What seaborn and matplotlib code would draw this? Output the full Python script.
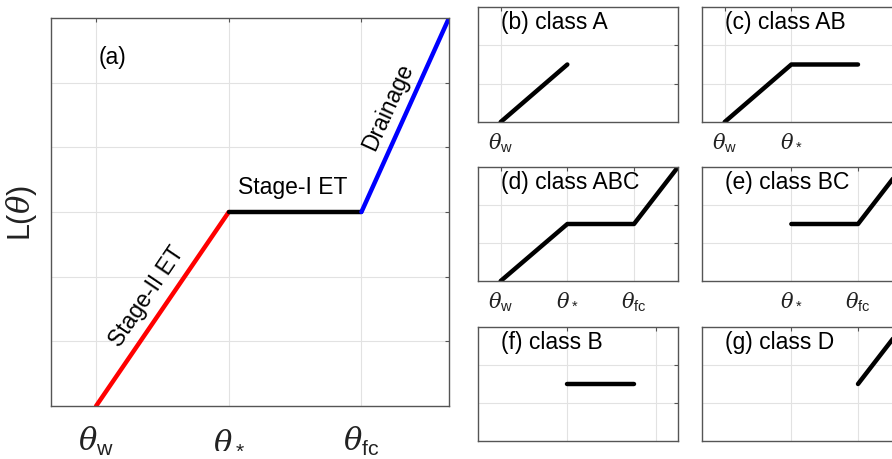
import numpy as np
import pandas as pd
import matplotlib
matplotlib.use("Agg")
import matplotlib.pyplot as plt
import seaborn as sns

# soil-moisture breakpoints (theta_w, theta_*, theta_fc, end of axis) and loss values
theta_pts = [1.0, 2.0, 3.0, 3.66]
L_pts = [0.0, 3.0, 3.0, 6.0]
stage_names = ["Stage-II ET", "Stage-I ET", "Drainage"]
stage_colors = ["#ff0000", "#000000", "#0000ff"]

tick_pos = [1.0, 2.0, 3.0]
tick_labels = [r"$\mathit{\theta}_{\mathrm{w}}$", r"$\mathit{\theta}_*$",
               r"$\mathit{\theta}_{\mathrm{fc}}$"]

# small panels: title, first/last breakpoint index, x ticks, tick labels shown
class_titles = ["(b) class A", "(c) class AB", "(d) class ABC",
                "(e) class BC", "(f) class B", "(g) class D"]
class_ranges = [(0, 2), (0, 3), (0, 4), (1, 4), (1, 3), (2, 4)]
class_ticks = [[1.0], [1.0, 2.0], [1.0, 2.0, 3.0], [2.0, 3.0], [2.0, 3.33], [2.0, 3.0]]
class_show_labels = [True, True, True, True, False, False]

sns.set_style("white")
plt.rcParams['font.family'] = ['Liberation Sans', 'DejaVu Sans']
plt.rcParams['text.color'] = 'black'
plt.rcParams['mathtext.fontset'] = 'custom'
plt.rcParams['mathtext.rm'] = 'Liberation Sans'
plt.rcParams['mathtext.it'] = 'DejaVu Serif:italic'
plt.rcParams['mathtext.bf'] = 'Liberation Sans:bold'

W, H = 892, 460
fig = plt.figure(figsize=(W / 100, H / 100), dpi=100)

spine_col = "#555555"
grid_col = "#e2e2e2"
xlim = (0.66, 3.66)
ylim = (0, 6)


def style_axes(ax, xt, yt, labels, fs, pad):
    ax.set_xlim(*xlim)
    ax.set_ylim(*ylim)
    ax.set_xticks(xt)
    ax.set_yticks(yt)
    ax.set_xticklabels(labels if labels else [""] * len(xt), fontsize=fs)
    ax.set_yticklabels([])
    ax.grid(True, color=grid_col, lw=0.8)
    ax.tick_params(direction="in", length=3, color=spine_col, top=True, right=True,
                   pad=pad, labelcolor="#222222")
    for s in ax.spines.values():
        s.set_color(spine_col)
        s.set_linewidth(1.0)
    ax.set_xlabel("")
    ax.set_ylabel("")


# ---- panel (a)
ax = fig.add_axes([51 / W, (H - 407) / H, 398 / W, 388 / H])
seg = pd.DataFrame({
    "x": sum([[theta_pts[i], theta_pts[i + 1]] for i in range(3)], []),
    "L": sum([[L_pts[i], L_pts[i + 1]] for i in range(3)], []),
    "stage": sum([[n, n] for n in stage_names], []),
})
sns.lineplot(data=seg, x="x", y="L", hue="stage", palette=dict(zip(stage_names, stage_colors)),
             estimator=None, sort=False, lw=3.2, legend=False, ax=ax)
style_axes(ax, tick_pos, [1, 2, 3, 4, 5], tick_labels, 22, 13)
ax.set_ylabel(r"L($\mathit{\theta}$)", fontsize=22, color="#222222")
ax.yaxis.set_label_coords(-0.03, 0.5)

ax.text(1.12, 5.41, "(a)", fontsize=16.5, ha="center", va="center")
ax.text(1.385, 1.70, "Stage-II ET", fontsize=16.5, ha="center", va="center",
        rotation=56, rotation_mode="anchor")
ax.text(2.48, 3.39, "Stage-I ET", fontsize=16.5, ha="center", va="center")
ax.text(3.196, 4.64, "Drainage", fontsize=16.5, ha="center", va="center",
        rotation=65.5, rotation_mode="anchor")

# ---- panels (b)-(g)
col_left = [478, 702]
row_tb = [(8, 123), (168, 282), (328, 442)]
for k in range(6):
    r, c = divmod(k, 2)
    top, bot = row_tb[r]
    sax = fig.add_axes([col_left[c] / W, (H - bot) / H, 200 / W, (bot - top) / H])
    i0, i1 = class_ranges[k]
    d = pd.DataFrame({"x": theta_pts[i0:i1], "L": L_pts[i0:i1]})
    sns.lineplot(data=d, x="x", y="L", color="black", estimator=None, sort=False,
                 lw=3.2, ax=sax)
    labs = None
    if class_show_labels[k]:
        labs = [tick_labels[tick_pos.index(t)] for t in class_ticks[k]]
    style_axes(sax, class_ticks[k], [2, 4], labs, 15, 6)
    sax.text(0.115, 0.87, class_titles[k], transform=sax.transAxes, fontsize=16.5,
             ha="left", va="center")

fig.savefig("out.png", dpi=100)
